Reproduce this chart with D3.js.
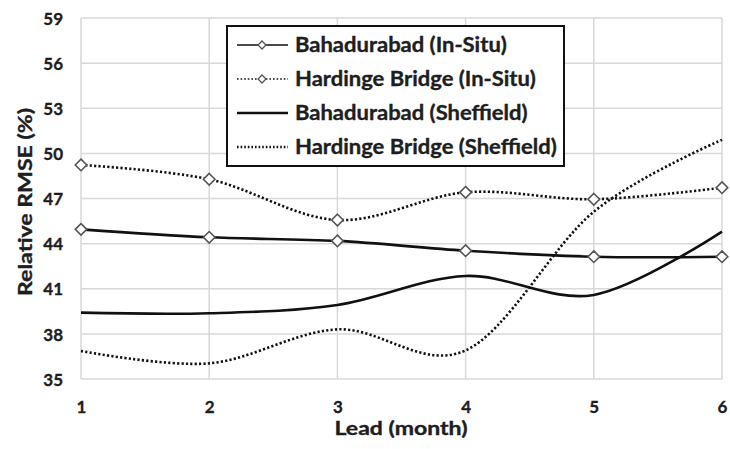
<!DOCTYPE html>
<html>
<head>
<meta charset="utf-8">
<script src="https://cdn.jsdelivr.net/npm/d3@7"></script>
<style>
  body { margin: 0; background: #fff; }
  text { font-family: Lato, "Open Sans", sans-serif; font-weight: bold; fill: #1e1e1e; stroke: #1e1e1e; stroke-width: 0.35px; }
</style>
</head>
<body>
<svg id="chart" width="730" height="449"></svg>
<script>
// values
var leads = [1, 2, 3, 4, 5, 6];
var bahaInSitu = [44.95, 44.42, 44.18, 43.53, 43.13, 43.13];
var hardInSitu = [49.23, 48.28, 45.57, 47.41, 46.95, 47.72];
var bahaSheff = [39.41, 39.37, 39.92, 41.85, 40.59, 44.8];
var hardSheff = [36.86, 36.04, 38.3, 36.9, 46.12, 50.9];
var yTicks = [35, 38, 41, 44, 47, 50, 53, 56, 59];
var seriesNames = ['Bahadurabad (In-Situ)', 'Hardinge Bridge (In-Situ)', 'Bahadurabad (Sheffield)', 'Hardinge Bridge (Sheffield)'];

var svg = d3.select('#chart');

var x = d3.scaleLinear().domain([1, 6]).range([81, 722]);
var y = d3.scaleLinear().domain([35, 59]).range([379, 18]);

// gridlines
svg.append('g').selectAll('line').data(yTicks).enter().append('line')
  .attr('x1', 81).attr('x2', 722)
  .attr('y1', function(d) { return y(d); })
  .attr('y2', function(d) { return y(d); })
  .attr('stroke', '#d9d9d9').attr('stroke-width', 1.5);
svg.append('g').selectAll('line').data(leads).enter().append('line')
  .attr('y1', 18).attr('y2', 379)
  .attr('x1', function(d) { return x(d); })
  .attr('x2', function(d) { return x(d); })
  .attr('stroke', '#d9d9d9').attr('stroke-width', 1.5);

// tick labels via axes, axis lines hidden
var yAxis = svg.append('g').attr('transform', 'translate(63,0)')
  .call(d3.axisLeft(y).tickValues(yTicks).tickSize(0).tickPadding(0));
yAxis.select('.domain').remove();
yAxis.selectAll('text').attr('font-size', 17).attr('font-family', null).attr('fill', null).attr('dy', '0.36em');

var xAxis = svg.append('g').attr('transform', 'translate(0,401)')
  .call(d3.axisBottom(x).tickValues(leads).tickFormat(d3.format('d')).tickSize(0).tickPadding(0));
xAxis.select('.domain').remove();
xAxis.selectAll('text').attr('font-size', 17).attr('font-family', null).attr('fill', null).attr('dy', '0.71em');

// axis titles
svg.append('text').attr('x', 401).attr('y', 435)
  .attr('text-anchor', 'middle').attr('font-size', 18)
  .attr('textLength', 133).attr('lengthAdjust', 'spacingAndGlyphs')
  .text('Lead (month)');
svg.append('text').attr('transform', 'translate(32,202) rotate(-90)')
  .attr('text-anchor', 'middle').attr('font-size', 18)
  .attr('textLength', 188).attr('lengthAdjust', 'spacingAndGlyphs')
  .text('Relative RMSE (%)');

// smoothed lines, Excel style
var line = d3.line()
  .x(function(d, i) { return x(leads[i]); })
  .y(function(d) { return y(d); })
  .curve(d3.curveCardinal.tension(0));

var dotted = '2.2,2.2';

svg.append('path').datum(bahaSheff).attr('d', line)
  .attr('fill', 'none').attr('stroke', '#111').attr('stroke-width', 2.6);
svg.append('path').datum(hardSheff).attr('d', line)
  .attr('fill', 'none').attr('stroke', '#111').attr('stroke-width', 2.6)
  .attr('stroke-dasharray', dotted);
svg.append('path').datum(bahaInSitu).attr('d', line)
  .attr('fill', 'none').attr('stroke', '#111').attr('stroke-width', 2.6);
svg.append('path').datum(hardInSitu).attr('d', line)
  .attr('fill', 'none').attr('stroke', '#111').attr('stroke-width', 2.6)
  .attr('stroke-dasharray', dotted);

// diamond markers on the in-situ series
var diamond = d3.symbol().type(d3.symbolDiamond2).size(85);
[bahaInSitu, hardInSitu].forEach(function(series) {
  svg.append('g').selectAll('path').data(series).enter().append('path')
    .attr('d', diamond)
    .attr('transform', function(d, i) { return 'translate(' + x(leads[i]) + ',' + y(d) + ')'; })
    .attr('fill', '#fff').attr('stroke', '#555').attr('stroke-width', 1.6);
});

// legend
var legend = svg.append('g');
legend.append('rect').attr('x', 227).attr('y', 26).attr('width', 337).attr('height', 140)
  .attr('fill', '#fff').attr('stroke', '#111').attr('stroke-width', 2);

var rows = legend.selectAll('g').data(seriesNames).enter().append('g')
  .attr('transform', function(d, i) { return 'translate(0,' + (45 + i * 34) + ')'; });
rows.append('line').attr('x1', 237).attr('x2', 288).attr('y1', 0).attr('y2', 0)
  .attr('stroke', '#111')
  .attr('stroke-width', function(d, i) { return i < 2 ? 1.6 : 2.4; })
  .attr('stroke-dasharray', function(d, i) { return i % 2 ? '1.6,2' : null; });
rows.filter(function(d, i) { return i < 2; }).append('path')
  .attr('d', d3.symbol().type(d3.symbolDiamond2).size(40))
  .attr('transform', 'translate(262,0)')
  .attr('fill', '#fff').attr('stroke', '#555').attr('stroke-width', 1.3);
rows.append('text').attr('transform', 'translate(295,0) scale(1.1,1)')
  .attr('dy', '0.35em').attr('font-size', 20)
  .text(function(d) { return d; });
</script>
</body>
</html>
